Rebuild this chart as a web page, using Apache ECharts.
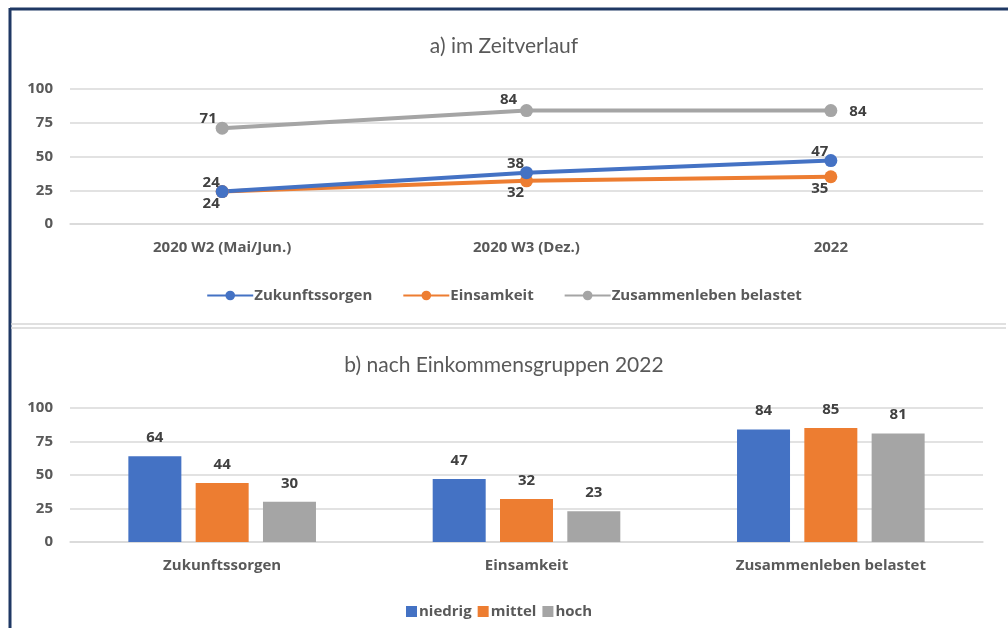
<!DOCTYPE html>
<html>
<head>
<meta charset="utf-8">
<script src="https://cdn.jsdelivr.net/npm/echarts@6/dist/echarts.min.js"></script>
<style>
  html, body { margin: 0; padding: 0; background: #fff; }
  #container { width: 1008px; height: 628px; }
</style>
</head>
<body>
<div id="container"></div>
<script>
// Daten oben: Zeitverlauf
var zeitpunkte = ['2020 W2 (Mai/Jun.)', '2020 W3 (Dez.)', '2022'];
var zukunftssorgen = [24, 38, 47];
var einsamkeit = [24, 32, 35];
var zusammenleben = [71, 84, 84];

// Daten unten: nach Einkommensgruppen 2022
var belastungen = ['Zukunftssorgen', 'Einsamkeit', 'Zusammenleben belastet'];
var niedrig = [64, 47, 84];
var mittel = [44, 32, 85];
var hoch = [30, 23, 81];

var blau = '#4472C4', orange = '#ED7D31', grau = '#A5A5A5';
var textFarbe = '#595959';
var fontName = '"Open Sans", sans-serif';
var titelFont = 'Lato, sans-serif';

var dom = document.getElementById('container');
var myChart = echarts.init(dom);

var yAchse = function (gridIdx) {
    return {
        type: 'value', gridIndex: gridIdx, min: 0, max: 100, interval: 25,
        axisLabel: { color: textFarbe, fontSize: 15, fontWeight: 'bold', fontFamily: fontName, margin: 17 },
        splitLine: { lineStyle: { color: '#d9d9d9', width: 1.5 } },
        axisLine: { show: false }, axisTick: { show: false }
    };
};
var xAchse = function (gridIdx, cats) {
    return {
        type: 'category', gridIndex: gridIdx, data: cats,
        axisLabel: { color: textFarbe, fontSize: 15, fontWeight: 'bold', fontFamily: fontName, margin: 16 },
        axisLine: { lineStyle: { color: '#d9d9d9', width: 1.5 } },
        axisTick: { show: false }
    };
};
var linienLabel = { show: true, color: '#404040', fontSize: 15, fontWeight: 'bold', fontFamily: fontName };
var balkenLabel = { show: true, position: 'top', distance: 11, color: '#404040',
                    fontSize: 15, fontWeight: 'bold', fontFamily: fontName };

// Beschriftungsposition der grauen Linie je Punkt
var grauOffsets = [[-14, 10], [-18, 8]];

var option = {
    animation: false,
    textStyle: { fontFamily: fontName },
    title: [
        { text: 'a) im Zeitverlauf', left: 'center', top: 31,
          textStyle: { color: textFarbe, fontSize: 21, fontWeight: 'normal', fontFamily: titelFont } },
        { text: 'b) nach Einkommensgruppen 2022', left: 'center', top: 350,
          textStyle: { color: textFarbe, fontSize: 21, fontWeight: 'normal', fontFamily: titelFont } }
    ],
    legend: [
        { data: ['Zukunftssorgen', 'Einsamkeit', 'Zusammenleben belastet'],
          left: 'center', top: 283, itemWidth: 46, itemHeight: 12, itemGap: 30,
          textStyle: { color: textFarbe, fontSize: 15, fontWeight: 'bold', fontFamily: fontName, padding: [0, 0, 0, -4] } },
        { data: ['niedrig', 'mittel', 'hoch'], icon: 'rect',
          left: 401, top: 599, itemWidth: 11, itemHeight: 11, itemGap: 6,
          textStyle: { color: textFarbe, fontSize: 15, fontWeight: 'bold', fontFamily: fontName, padding: [0, 0, 0, -3] } }
    ],
    grid: [
        { left: 70, right: 25, top: 89, height: 135 },
        { left: 70, right: 25, top: 408, height: 134 }
    ],
    xAxis: [xAchse(0, zeitpunkte), xAchse(1, belastungen)],
    yAxis: [yAchse(0), yAchse(1)],
    graphic: [
        { type: 'line', shape: { x1: 10, y1: 9, x2: 1008, y2: 9 }, style: { stroke: '#1f3864', lineWidth: 3 } },
        { type: 'line', shape: { x1: 10, y1: 8, x2: 10, y2: 628 }, style: { stroke: '#1f3864', lineWidth: 3 } },
        { type: 'line', shape: { x1: 11, y1: 324, x2: 1006, y2: 324 }, style: { stroke: '#d6d6d6', lineWidth: 1.5 } },
        { type: 'line', shape: { x1: 11, y1: 328, x2: 1006, y2: 328 }, style: { stroke: '#d6d6d6', lineWidth: 1.5 } }
    ],
    series: [
        { name: 'Zusammenleben belastet', type: 'line', xAxisIndex: 0, yAxisIndex: 0,
          data: zusammenleben.map(function (v, i) {
              return i < grauOffsets.length
                  ? { value: v, label: { position: 'top', offset: grauOffsets[i] } }
                  : { value: v, label: { position: 'right', offset: [7, 1] } };
          }),
          color: grau, lineStyle: { width: 4 }, symbol: 'circle', symbolSize: 13,
          label: linienLabel },
        { name: 'Einsamkeit', type: 'line', xAxisIndex: 0, yAxisIndex: 0, data: einsamkeit,
          color: orange, lineStyle: { width: 4 }, symbol: 'circle', symbolSize: 13,
          label: Object.assign({ position: 'bottom', offset: [-11, -7] }, linienLabel) },
        { name: 'Zukunftssorgen', type: 'line', xAxisIndex: 0, yAxisIndex: 0, data: zukunftssorgen,
          color: blau, lineStyle: { width: 4 }, symbol: 'circle', symbolSize: 13,
          label: Object.assign({ position: 'top', offset: [-11, 10] }, linienLabel) },

        { name: 'niedrig', type: 'bar', xAxisIndex: 1, yAxisIndex: 1, data: niedrig, color: blau,
          barWidth: 53, barGap: '27%', label: balkenLabel },
        { name: 'mittel', type: 'bar', xAxisIndex: 1, yAxisIndex: 1, data: mittel, color: orange,
          barWidth: 53, barGap: '27%', label: balkenLabel },
        { name: 'hoch', type: 'bar', xAxisIndex: 1, yAxisIndex: 1, data: hoch, color: grau,
          barWidth: 53, barGap: '27%', label: balkenLabel }
    ]
};
myChart.setOption(option, true);
</script>
</body>
</html>
